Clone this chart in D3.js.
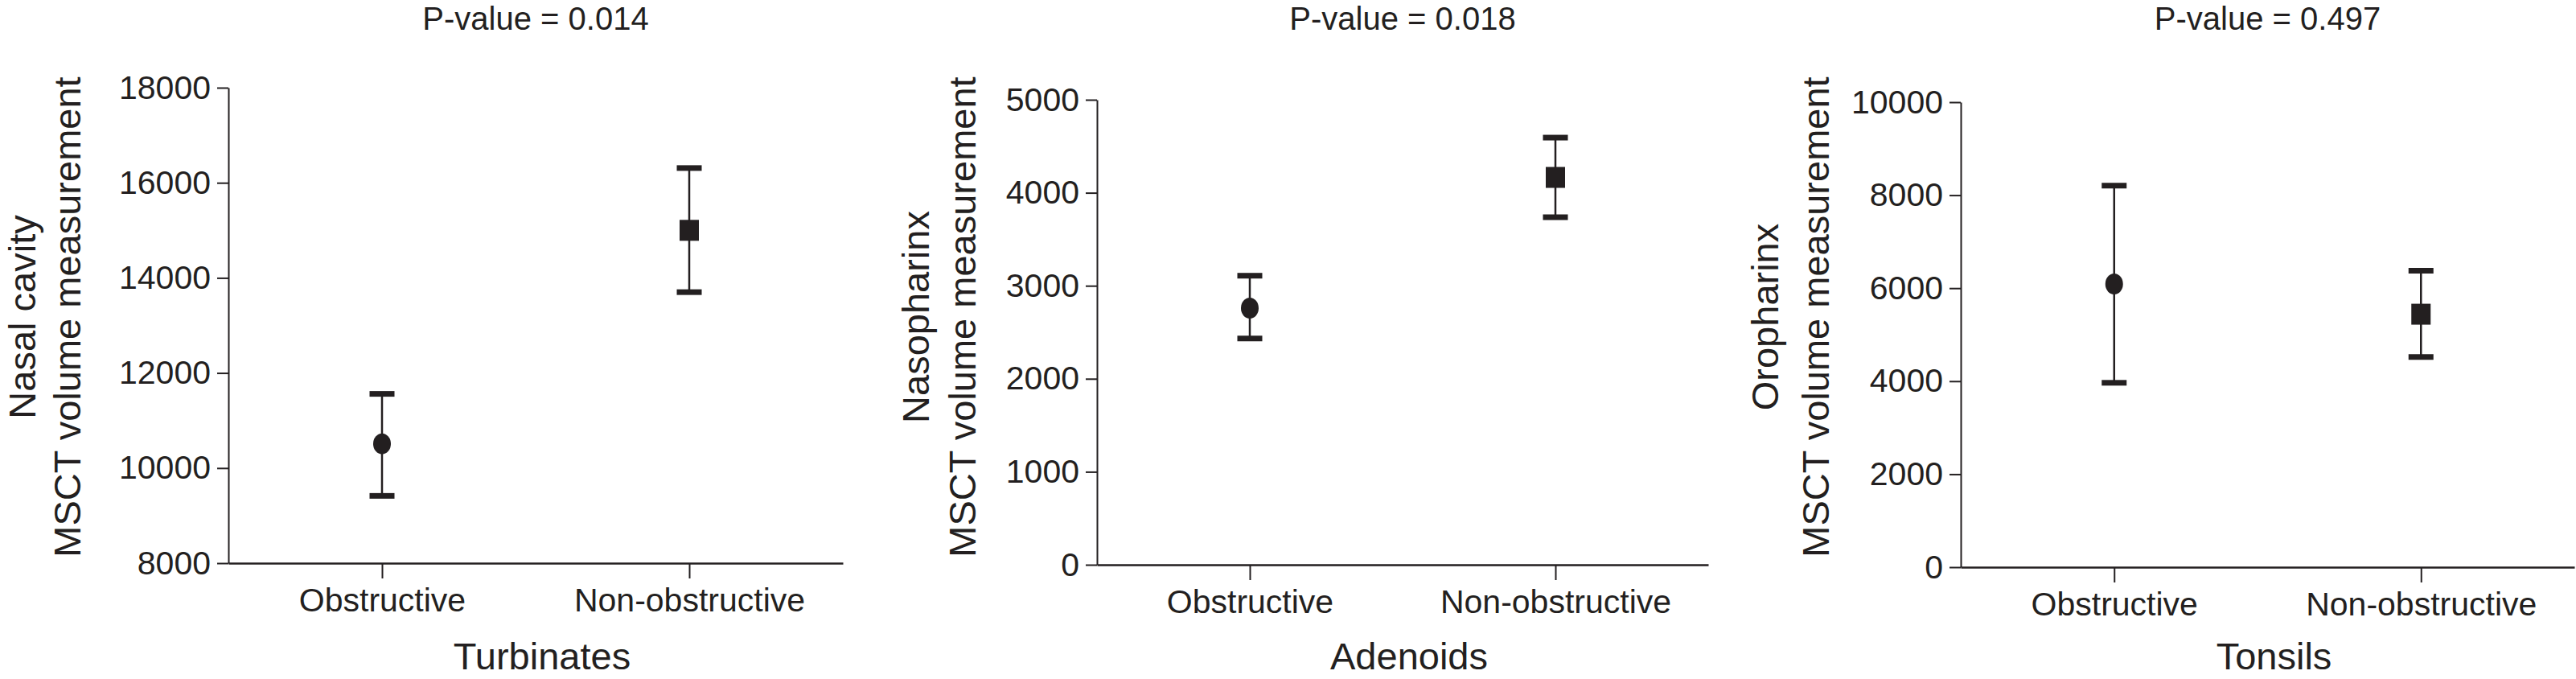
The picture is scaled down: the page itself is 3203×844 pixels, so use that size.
<!DOCTYPE html>
<html>
<head>
<meta charset="utf-8">
<script src="https://cdn.jsdelivr.net/npm/d3@7"></script>
<style>
  html, body { margin: 0; padding: 0; background: #fff; }
  svg { display: block; }
  text { font-family: "Liberation Sans", Arial, Helvetica, sans-serif; fill: #231f20; }
</style>
</head>
<body>
<svg id="chart" width="3203" height="844"></svg>
<script>
// ---- data ----
const categories = ["Obstructive", "Non-obstructive"];
const groupTitles = ["Turbinates", "Adenoids", "Tonsils"];
const pValueLabels = ["P-value = 0.014", "P-value = 0.018", "P-value = 0.497"];
const regionLabels = ["Nasal cavity", "Nasopharinx", "Oropharinx"];
const measureLabel = "MSCT volume measurement";
const yTickValues = [
  [8000, 10000, 12000, 14000, 16000, 18000],
  [0, 1000, 2000, 3000, 4000, 5000],
  [0, 2000, 4000, 6000, 8000, 10000]
];
const meanValues = [[10510, 15000], [2760, 4165], [6090, 5440]];
const lowerValues = [[9415, 13700], [2433, 3737], [3965, 4520]];
const upperValues = [[11560, 16310], [3108, 4593], [8205, 6375]];
const markerShapes = ["circle", "square"];

// ---- layout (positions only) ----
const layout = [
  { left: 284, right: 1048, top: 109, bottom: 700, title1X: 44, title2X: 100 },
  { left: 1364, right: 2124, top: 124, bottom: 702, title1X: 1155, title2X: 1213 },
  { left: 2438, right: 3201, top: 127, bottom: 705, title1X: 2211, title2X: 2274 }
];
const ink = "#231f20";

const svg = d3.select("#chart");

groupTitles.forEach((g, i) => {
  const L = layout[i];
  const ticks = yTickValues[i];
  const x = d3.scalePoint().domain(categories).range([L.left, L.right]).padding(0.5);
  const y = d3.scaleLinear().domain([ticks[0], ticks[ticks.length - 1]]).range([L.bottom, L.top]);
  const cx = (L.left + L.right) / 2;

  const gp = svg.append("g");

  // y axis
  const ya = gp.append("g").attr("transform", `translate(${L.left},0)`)
    .call(d3.axisLeft(y).tickValues(ticks).tickFormat(d3.format("d")).tickSize(14).tickPadding(8).tickSizeOuter(0));
  ya.select(".domain").attr("stroke", ink).attr("stroke-width", 2);
  ya.selectAll(".tick line").attr("stroke", ink).attr("stroke-width", 2);
  ya.selectAll(".tick text").attr("font-size", 41).attr("fill", ink)
    .style("font-family", '"Liberation Sans", Arial, sans-serif');

  // x axis
  const xa = gp.append("g").attr("transform", `translate(0,${L.bottom})`)
    .call(d3.axisBottom(x).tickSize(19).tickPadding(12).tickSizeOuter(0));
  xa.select(".domain").attr("stroke", ink).attr("stroke-width", 2.5);
  xa.selectAll(".tick line").attr("stroke", ink).attr("stroke-width", 2);
  xa.selectAll(".tick text").attr("font-size", 41).attr("fill", ink)
    .style("font-family", '"Liberation Sans", Arial, sans-serif');

  // p-value title
  gp.append("text").attr("x", cx).attr("y", 37).attr("text-anchor", "middle")
    .attr("font-size", 40).text(pValueLabels[i]);

  // x axis title
  gp.append("text").attr("x", cx + 8).attr("y", 832).attr("text-anchor", "middle")
    .attr("font-size", 47).text(g);

  // y axis titles (two lines)
  const yc = 394;
  gp.append("text").attr("transform", `translate(${L.title1X},${yc}) rotate(-90)`)
    .attr("text-anchor", "middle").attr("font-size", 47).text(regionLabels[i]);
  gp.append("text").attr("transform", `translate(${L.title2X},${yc}) rotate(-90)`)
    .attr("text-anchor", "middle").attr("font-size", 47).text(measureLabel);

  // error bars
  const pts = categories.map((c, j) => ({
    c, mean: meanValues[i][j], lo: lowerValues[i][j], hi: upperValues[i][j], shape: markerShapes[j]
  }));
  const eb = gp.append("g");
  eb.selectAll("line.stem").data(pts).join("line")
    .attr("class", "stem")
    .attr("x1", d => x(d.c)).attr("x2", d => x(d.c))
    .attr("y1", d => y(d.hi)).attr("y2", d => y(d.lo))
    .attr("stroke", ink).attr("stroke-width", 2.5);
  const capW = 31;
  eb.selectAll("line.capHi").data(pts).join("line")
    .attr("class", "capHi")
    .attr("x1", d => x(d.c) - capW / 2).attr("x2", d => x(d.c) + capW / 2)
    .attr("y1", d => y(d.hi)).attr("y2", d => y(d.hi))
    .attr("stroke", ink).attr("stroke-width", 7);
  eb.selectAll("line.capLo").data(pts).join("line")
    .attr("class", "capLo")
    .attr("x1", d => x(d.c) - capW / 2).attr("x2", d => x(d.c) + capW / 2)
    .attr("y1", d => y(d.lo)).attr("y2", d => y(d.lo))
    .attr("stroke", ink).attr("stroke-width", 7);

  // markers
  eb.selectAll("ellipse.mk").data(pts.filter(d => d.shape === "circle")).join("ellipse")
    .attr("class", "mk")
    .attr("cx", d => x(d.c)).attr("cy", d => y(d.mean))
    .attr("rx", 11).attr("ry", 13).attr("fill", ink);
  eb.selectAll("rect.mk").data(pts.filter(d => d.shape === "square")).join("rect")
    .attr("class", "mk")
    .attr("x", d => x(d.c) - 12).attr("y", d => y(d.mean) - 13)
    .attr("width", 24).attr("height", 26).attr("fill", ink);
});
</script>
</body>
</html>
